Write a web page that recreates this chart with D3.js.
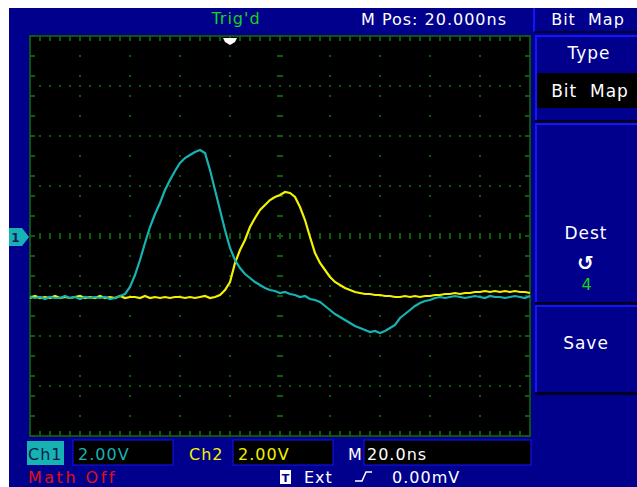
<!DOCTYPE html>
<html>
<head>
<meta charset="utf-8">
<script src="https://cdn.jsdelivr.net/npm/d3@7"></script>
<style>
  body { margin: 0; background: #fff; }
  svg { display: block; }
  text { font-family: "DejaVu Sans", sans-serif; letter-spacing: 1px; }
</style>
</head>
<body>
<svg id="scope" width="637" height="487"></svg>
<script>
//
//Data: time in ns, ch1 / ch2 in volts
//
var times = d3.range(-100, 101, 2);

var ch1 = [-2.44, -2.48, -2.44, -2.52, -2.44, -2.48, -2.48, -2.40, -2.48, -2.44,
  -2.52, -2.44, -2.48, -2.44, -2.48, -2.44, -2.52, -2.48, -2.40, -2.32,
  -2.04, -1.56, -0.96, -0.28, 0.36, 0.88, 1.32, 1.84, 2.24, 2.60,
  2.92, 3.12, 3.24, 3.36, 3.44, 3.32, 2.64, 1.84, 1.04, 0.24,
  -0.48, -0.96, -1.28, -1.52, -1.68, -1.84, -1.96, -2.08, -2.16, -2.20,
  -2.28, -2.24, -2.32, -2.36, -2.44, -2.40, -2.52, -2.56, -2.64, -2.80,
  -2.96, -3.12, -3.24, -3.36, -3.48, -3.60, -3.68, -3.76, -3.84, -3.80,
  -3.88, -3.80, -3.68, -3.56, -3.28, -3.12, -2.96, -2.80, -2.68, -2.60,
  -2.56, -2.48, -2.44, -2.48, -2.44, -2.40, -2.44, -2.48, -2.44, -2.40,
  -2.44, -2.48, -2.40, -2.44, -2.44, -2.48, -2.44, -2.40, -2.44, -2.48, -2.40];

var ch2 = [-2.48, -2.40, -2.48, -2.44, -2.48, -2.40, -2.48, -2.44, -2.48, -2.44,
  -2.40, -2.48, -2.44, -2.48, -2.40, -2.48, -2.44, -2.48, -2.40, -2.48,
  -2.44, -2.44, -2.48, -2.40, -2.48, -2.44, -2.48, -2.44, -2.48, -2.44,
  -2.44, -2.48, -2.44, -2.48, -2.44, -2.40, -2.48, -2.44, -2.36, -2.16,
  -1.84, -1.08, -0.56, -0.16, 0.36, 0.72, 1.04, 1.24, 1.44, 1.56,
  1.64, 1.76, 1.72, 1.56, 1.16, 0.64, -0.04, -0.68, -1.08, -1.36,
  -1.64, -1.84, -1.96, -2.08, -2.16, -2.24, -2.28, -2.32, -2.32, -2.36,
  -2.36, -2.40, -2.40, -2.44, -2.44, -2.40, -2.44, -2.40, -2.44, -2.40,
  -2.40, -2.36, -2.36, -2.32, -2.32, -2.28, -2.32, -2.28, -2.28, -2.24,
  -2.24, -2.20, -2.24, -2.20, -2.24, -2.20, -2.24, -2.20, -2.24, -2.24, -2.28];

//Menu and status texts
var menuItems = ["Type", "Dest", "Save"];
var topTexts = ["Trig'd", "M Pos: 20.000ns", "Bit Map"];
var statusTexts = ["Ch1", "2.00V", "Ch2", "2.00V", "M", "20.0ns", "Math Off", "Ext", "0.00mV"];

//
//Set up variables
//
var blue = "#00008c";
var bright = "#1414ff";
var gridCol = "#0b5c0b";
var cyan = "#17b3b3";
var yellow = "#f2f200";

var svg = d3.select("#scope");

var x = d3.scaleLinear().domain([-100, 100]).range([30, 530]);
var y = d3.scaleLinear().domain([-8, 8]).range([436, 36]);

//Background
svg.append("rect").attr("x", 9).attr("y", 8).attr("width", 628).attr("height", 479).attr("fill", blue);

//
//Graticule
//
svg.append("rect").attr("x", 30).attr("y", 36).attr("width", 500).attr("height", 400)
  .attr("fill", "#000").attr("stroke", "#0f520f").attr("stroke-width", 2);

var g = svg.append("g");
var xMajor = d3.range(-80, 100, 20);
var yMajor = d3.range(-6, 8, 2);
var xMinor = d3.range(-100, 100.1, 4);
var yMinor = d3.range(-8, 8.01, 0.8);

//Dotted division lines
xMajor.forEach(function(t) {
  yMinor.forEach(function(v) {
    g.append("rect").attr("x", x(t) - 1).attr("y", y(v) - 1).attr("width", 2).attr("height", 2).attr("fill", gridCol);
  });
});
yMajor.forEach(function(v) {
  xMinor.forEach(function(t) {
    g.append("rect").attr("x", x(t) - 1).attr("y", y(v) - 1).attr("width", 2).attr("height", 2).attr("fill", gridCol);
  });
});

//Centre lines with ticks, and edge ticks
xMinor.forEach(function(t) {
  g.append("line").attr("x1", x(t)).attr("x2", x(t)).attr("y1", y(0) - 3).attr("y2", y(0) + 3).attr("stroke", gridCol).attr("stroke-width", 2);
  g.append("line").attr("x1", x(t)).attr("x2", x(t)).attr("y1", 36).attr("y2", 41).attr("stroke", gridCol).attr("stroke-width", 2);
  g.append("line").attr("x1", x(t)).attr("x2", x(t)).attr("y1", 431).attr("y2", 436).attr("stroke", gridCol).attr("stroke-width", 2);
});
yMinor.forEach(function(v) {
  g.append("line").attr("x1", x(0) - 3).attr("x2", x(0) + 3).attr("y1", y(v)).attr("y2", y(v)).attr("stroke", gridCol).attr("stroke-width", 2);
  g.append("line").attr("x1", 30).attr("x2", 35).attr("y1", y(v)).attr("y2", y(v)).attr("stroke", gridCol).attr("stroke-width", 2);
  g.append("line").attr("x1", 525).attr("x2", 530).attr("y1", y(v)).attr("y2", y(v)).attr("stroke", gridCol).attr("stroke-width", 2);
});

//
//Traces
//
var line = d3.line().x(function(d, i) { return x(times[i]); }).y(function(d) { return y(d); });

svg.append("path").datum(ch2).attr("d", line).attr("fill", "none").attr("stroke", yellow).attr("stroke-width", 2.2);
svg.append("path").datum(ch1).attr("d", line).attr("fill", "none").attr("stroke", cyan).attr("stroke-width", 2.2);

//Trigger position marker
svg.append("path").attr("d", "M" + (x(-20) - 7) + ",38 L" + (x(-20) + 7) + ",38 L" + (x(-20) + 5) + ",42 L" + x(-20) + ",45 L" + (x(-20) - 5) + ",42 Z")
  .attr("fill", "#fff");

//Channel 1 ground marker
svg.append("path").attr("d", "M9,228 L22,228 L29,237 L22,246 L9,246 Z").attr("fill", cyan);
svg.append("text").attr("x", 16).attr("y", 242).attr("text-anchor", "middle").attr("font-size", 12)
  .attr("font-weight", "bold").attr("fill", "#1a1a60").text("1");

//
//Top bar
//
svg.append("text").attr("x", 236).attr("y", 24).attr("text-anchor", "middle").attr("font-size", 16).attr("fill", "#13d613").text(topTexts[0]);
svg.append("text").attr("x", 434).attr("y", 25).attr("text-anchor", "middle").attr("font-size", 16).attr("fill", "#fff").text(topTexts[1]);
svg.append("line").attr("x1", 534).attr("x2", 534).attr("y1", 8).attr("y2", 32).attr("stroke", bright).attr("stroke-width", 2);
svg.append("line").attr("x1", 534).attr("x2", 637).attr("y1", 32).attr("y2", 32).attr("stroke", "#000030").attr("stroke-width", 2);
svg.append("text").attr("x", 588).attr("y", 25).attr("text-anchor", "middle").attr("font-size", 16).attr("fill", "#fff")
  .attr("xml:space", "preserve").text("Bit  Map");

//
//Right menu
//
var boxes = [[35, 121], [123, 303], [305, 393]];
boxes.forEach(function(b) {
  svg.append("rect").attr("x", 536).attr("y", b[0]).attr("width", 101).attr("height", b[1] - b[0]).attr("fill", blue);
  svg.append("line").attr("x1", 535).attr("x2", 637).attr("y1", b[0] + 1).attr("y2", b[0] + 1).attr("stroke", bright).attr("stroke-width", 2);
  svg.append("line").attr("x1", 536).attr("x2", 536).attr("y1", b[0]).attr("y2", b[1]).attr("stroke", bright).attr("stroke-width", 2);
  svg.append("line").attr("x1", 535).attr("x2", 637).attr("y1", b[1] + 0.5).attr("y2", b[1] + 0.5).attr("stroke", "#000020").attr("stroke-width", 3);
});
svg.append("rect").attr("x", 537).attr("y", 73).attr("width", 100).attr("height", 35).attr("fill", "#000");

svg.append("text").attr("x", 589).attr("y", 59).attr("text-anchor", "middle").attr("font-size", 17).attr("fill", "#fff").text(menuItems[0]);
svg.append("text").attr("x", 590).attr("y", 97).attr("text-anchor", "middle").attr("font-size", 17).attr("fill", "#fff")
  .attr("xml:space", "preserve").text("Bit  Map");
svg.append("text").attr("x", 586).attr("y", 239).attr("text-anchor", "middle").attr("font-size", 17).attr("fill", "#fff").text(menuItems[1]);
svg.append("text").attr("x", 586).attr("y", 270).attr("text-anchor", "middle").attr("font-size", 20).attr("font-weight", "bold")
  .attr("fill", "#fff").text("\u21BA");
svg.append("text").attr("x", 587).attr("y", 290).attr("text-anchor", "middle").attr("font-size", 16).attr("fill", "#13d613").text("4");
svg.append("text").attr("x", 586).attr("y", 349).attr("text-anchor", "middle").attr("font-size", 17).attr("fill", "#fff").text(menuItems[2]);

//
//Status bar
//
svg.append("rect").attr("x", 27).attr("y", 441).attr("width", 37).attr("height", 24).attr("fill", cyan);
svg.append("text").attr("x", 28).attr("y", 460).attr("font-size", 16).attr("fill", "#0a1a50").text(statusTexts[0]);
svg.append("rect").attr("x", 73).attr("y", 440).attr("width", 100).attr("height", 25).attr("fill", "#000").attr("stroke", bright).attr("stroke-width", 1);
svg.append("text").attr("x", 78).attr("y", 460).attr("font-size", 16).attr("fill", cyan).text(statusTexts[1]);

svg.append("text").attr("x", 189).attr("y", 460).attr("font-size", 16).attr("fill", yellow).text(statusTexts[2]);
svg.append("rect").attr("x", 233).attr("y", 440).attr("width", 100).attr("height", 25).attr("fill", "#000").attr("stroke", bright).attr("stroke-width", 1);
svg.append("text").attr("x", 238).attr("y", 460).attr("font-size", 16).attr("fill", yellow).text(statusTexts[3]);

svg.append("text").attr("x", 348).attr("y", 460).attr("font-size", 16).attr("fill", "#fff").text(statusTexts[4]);
svg.append("rect").attr("x", 364).attr("y", 440).attr("width", 167).attr("height", 25).attr("fill", "#000").attr("stroke", bright).attr("stroke-width", 1);
svg.append("text").attr("x", 367).attr("y", 460).attr("font-size", 16).attr("fill", "#fff").text(statusTexts[5]);

svg.append("text").attr("x", 28).attr("y", 483).attr("font-size", 16).attr("font-family", "DejaVu Sans Mono").attr("fill", "#e01010")
  .style("letter-spacing", "2.5px").text(statusTexts[6]);
svg.append("rect").attr("x", 280).attr("y", 470).attr("width", 11).attr("height", 14).attr("fill", "#fff");
svg.append("text").attr("x", 285.5).attr("y", 482).attr("text-anchor", "middle").attr("font-size", 11).attr("font-weight", "bold")
  .style("letter-spacing", "0px").attr("fill", blue).text("T");
svg.append("text").attr("x", 304).attr("y", 483).attr("font-size", 16).attr("fill", "#fff").text(statusTexts[7]);
svg.append("path").attr("d", "M355,481 L362,481 L366,472 L372,472").attr("fill", "none").attr("stroke", "#fff").attr("stroke-width", 1.5);
svg.append("text").attr("x", 392).attr("y", 483).attr("font-size", 16).attr("fill", "#fff").text(statusTexts[8]);
</script>
</body>
</html>
